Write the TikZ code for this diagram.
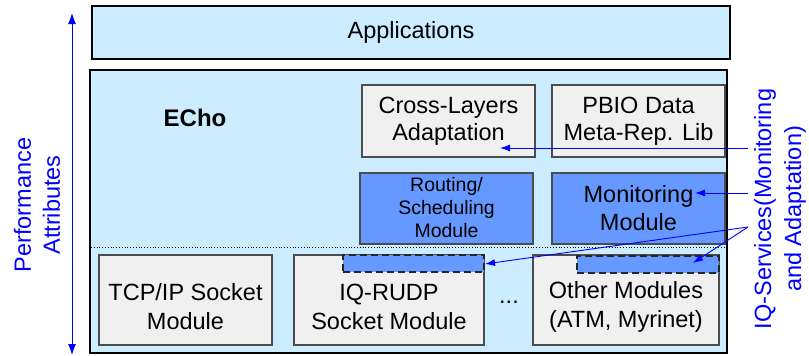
\documentclass[tikz,border=0pt]{standalone}
\usepackage{fontspec}
\setmainfont{Liberation Sans}
\usetikzlibrary{arrows.meta}
\definecolor{paleblue}{HTML}{CCECFF}
\definecolor{modblue}{HTML}{6699FF}
\definecolor{modgray}{HTML}{F0F0F0}
\definecolor{linkblue}{HTML}{0000FF}
\tikzset{
  layer/.style={draw=black, line width=2.2pt, fill=paleblue, inner sep=0pt},
  graybox/.style={draw=black!70, line width=1.1pt, fill=modgray, inner sep=0pt},
  bluebox/.style={draw=black!70, line width=1.1pt, fill=modblue, inner sep=0pt},
  txt/.style={font=\fontsize{23.5}{29}\selectfont, align=center, inner sep=0pt},
  smalltxt/.style={font=\fontsize{19.5}{23}\selectfont, align=center, inner sep=0pt},
  iqbar/.style={draw=black!85, line width=1.1pt, fill=modblue, dash pattern=on 7pt off 4pt, inner sep=0pt},
  link/.style={draw=linkblue, line width=0.9pt, -{Latex[length=10pt,width=7pt]}},
}
\begin{document}
\begin{tikzpicture}[x=1pt,y=-1pt]
\useasboundingbox (0,0) rectangle (809,356);
\fill[white] (0,0) rectangle (809,356);

% application layer
\node[layer, minimum width=638pt, minimum height=53pt] (apps) at (411,32.5) {};
\node[txt] (appstxt) at (411,32) {Applications};

% ECho layer
\node[layer, minimum width=637pt, minimum height=283pt] (echo) at (408.5,211.5) {};
\node[txt, font=\fontsize{24}{29}\selectfont\bfseries] (echotxt) at (195,118) {ECho};
\coordinate (sepL) at (91,247);
\coordinate (sepR) at (726,247);
\draw[black, line width=0.8pt, dotted] (sepL) -- (sepR);

% upper modules
\node[graybox, minimum width=173pt, minimum height=72pt] (cross) at (448.5,121) {};
\node[txt, font=\fontsize{23.5}{27}\selectfont] (crosstxt) at (448.5,121) {Cross-Layers\\Adaptation};
\node[graybox, minimum width=173pt, minimum height=72pt] (pbio) at (638.5,121) {};
\node[txt, font=\fontsize{23.5}{27}\selectfont] (pbiotxt) at (638.5,121) {PBIO Data\\Meta-Rep. Lib};

\node[bluebox, minimum width=173pt, minimum height=71pt] (route) at (446.5,208.5) {};
\node[smalltxt] (routetxt) at (446.5,208) {Routing/\\Scheduling\\Module};
\node[bluebox, minimum width=173pt, minimum height=71pt] (mon) at (638.5,208.5) {};
\node[txt, font=\fontsize{23.5}{28}\selectfont] (montxt) at (638.5,208) {Monitoring\\Module};

% transport modules
\node[graybox, minimum width=173pt, minimum height=90pt] (tcp) at (185.5,300) {};
\node[txt] (tcptxt) at (185.5,307) {TCP/IP Socket\\Module};
\node[graybox, minimum width=190pt, minimum height=90pt] (rudp) at (389,300) {};
\node[txt] (rudptxt) at (389,307) {IQ-RUDP\\Socket Module};
\node[txt] (dots) at (509,302) {...};
\node[graybox, minimum width=186pt, minimum height=90pt] (other) at (626,300) {};
\node[txt] (othertxt) at (626,307) {Other Modules\\(ATM, Myrinet)};

% IQ service hooks inside the transports
\node[iqbar, minimum width=141pt, minimum height=17pt] (hook1) at (413.5,263.5) {};
\node[iqbar, minimum width=142pt, minimum height=17pt] (hook2) at (648,264.5) {};

% performance attributes axis
\coordinate (axTop) at (72,13);
\coordinate (axBot) at (72,355);
\draw[draw=linkblue, line width=0.9pt, {Latex[length=11pt,width=8pt]}-{Latex[length=11pt,width=8pt]}] (axBot) -- (axTop);
\node[txt, text=linkblue, rotate=90] (perf) at (37,205) {Performance\\Attributes};

% IQ-Services label and its links
\node[txt, text=linkblue, rotate=90, font=\fontsize{23.5}{30}\selectfont] (iqs) at (780,209) {IQ-Services(Monitoring\\and Adaptation)};
\coordinate (srcA) at (748,148);
\coordinate (srcB) at (748,193);
\coordinate (srcC) at (748,227);
\coordinate (tipA) at (500,148);
\coordinate (tipB) at (695,193);
\coordinate (tipC) at (485,264);
\coordinate (tipD) at (693,263);
\draw[link] (srcA) -- (tipA);
\draw[link] (srcB) -- (tipB);
\draw[link] (srcC) -- (tipC);
\draw[link] (srcC) -- (tipD);
\end{tikzpicture}
\end{document}
